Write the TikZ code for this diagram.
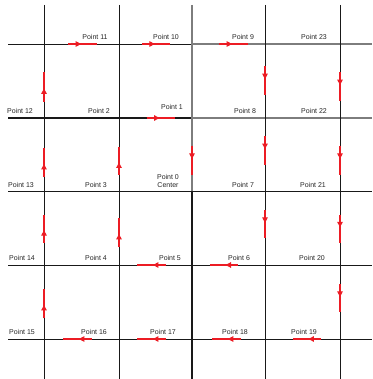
\documentclass[tikz,border=0pt]{standalone}
\usepackage{fontspec}
\setmainfont{Liberation Sans}
\usetikzlibrary{calc,arrows.meta}
\definecolor{flowred}{RGB}{236,28,36}
\definecolor{gridgrey}{RGB}{125,125,125}
\tikzset{
  gridline/.style={draw=black!90, line width=0.8pt},
  gridbold/.style={draw=black!90, line width=1.3pt},
  gridpale/.style={draw=gridgrey, line width=1.1pt},
  flowline/.style={draw=flowred, line width=1.1pt},
  flowhead/.style={draw=flowred, line width=1.1pt, -{Triangle[length=5.5pt,width=5.5pt]}},
  lab/.style={font=\fontsize{7pt}{8pt}\selectfont, text=black!85, inner sep=0pt, align=center}
}
\newcommand\flowarrow[4]{%
  \draw[flowline] ($(#1)!#3!(#2)$) -- ($(#1)!#4!(#2)$);
  \draw[flowhead] ($(#1)!#3!(#2)$) -- ($(#1)!{#3+0.45*(#4-#3)}!(#2)$);
}
\begin{document}
\begin{tikzpicture}[x=1pt,y=-1pt]
\useasboundingbox (0,0) rectangle (372,379);
% intersections
\foreach \cx [count=\i from 0] in {44,119,192,265,340}{
  \foreach \ry [count=\j from 0] in {44,118,191,265,339}{
    \coordinate (c\i r\j) at (\cx,\ry);
  }
  \coordinate (T\i) at (\cx,5);
  \coordinate (B\i) at (\cx,379);
}
\foreach \ry [count=\j from 0] in {44,118,191,265,339}{
  \coordinate (L\j) at (8,\ry);
  \coordinate (R\j) at (372,\ry);
}
% horizontal lines
\draw[gridline] (L0) -- (c2r0);
\draw[gridpale] (c2r0) -- (R0);
\draw[gridbold] (L1) -- (c2r1);
\draw[gridpale] (c2r1) -- (R1);
\draw[gridline] (L2) -- (R2);
\draw[gridline] (L3) -- (R3);
\draw[gridline] (L4) -- (R4);
% vertical lines
\draw[gridline] (T0) -- (B0);
\draw[gridline] (T1) -- (B1);
\draw[gridpale] (T2) -- (c2r2);
\draw[gridbold] (c2r2) -- (B2);
\draw[gridline] (T3) -- (B3);
\draw[gridline] (T4) -- (B4);
% flow arrows
\flowarrow{c0r0}{c1r0}{0.32}{0.71}
\flowarrow{c1r0}{c2r0}{0.32}{0.70}
\flowarrow{c2r0}{c3r0}{0.37}{0.77}
\flowarrow{c3r0}{c3r1}{0.30}{0.69}
\flowarrow{c4r0}{c4r1}{0.38}{0.77}
\flowarrow{c1r1}{c2r1}{0.38}{0.77}
\flowarrow{c0r1}{c0r0}{0.22}{0.62}
\flowarrow{c0r2}{c0r1}{0.19}{0.59}
\flowarrow{c1r2}{c1r1}{0.22}{0.60}
\flowarrow{c2r1}{c2r2}{0.38}{0.78}
\flowarrow{c3r1}{c3r2}{0.25}{0.64}
\flowarrow{c4r1}{c4r2}{0.38}{0.78}
\flowarrow{c0r3}{c0r2}{0.30}{0.68}
\flowarrow{c1r3}{c1r2}{0.24}{0.64}
\flowarrow{c3r2}{c3r3}{0.26}{0.64}
\flowarrow{c4r2}{c4r3}{0.32}{0.70}
\flowarrow{c2r3}{c1r3}{0.36}{0.75}
\flowarrow{c3r3}{c2r3}{0.37}{0.75}
\flowarrow{c0r4}{c0r3}{0.28}{0.68}
\flowarrow{c4r3}{c4r4}{0.26}{0.64}
\flowarrow{c1r4}{c0r4}{0.36}{0.75}
\flowarrow{c2r4}{c1r4}{0.36}{0.75}
\flowarrow{c3r4}{c2r4}{0.33}{0.73}
\flowarrow{c4r4}{c3r4}{0.25}{0.63}
% labels
\node[lab] (p11) at (95,37) {Point 11};
\node[lab] (p10) at (166,37) {Point 10};
\node[lab] (p9) at (243,37) {Point 9};
\node[lab] (p23) at (314,37) {Point 23};
\node[lab] (p12) at (20,111) {Point 12};
\node[lab] (p2) at (99,111) {Point 2};
\node[lab] (p1) at (172,107) {Point 1};
\node[lab] (p8) at (245,111) {Point 8};
\node[lab] (p22) at (314,111) {Point 22};
\node[lab] (p13) at (21,185) {Point 13};
\node[lab] (p3) at (96,185) {Point 3};
\node[lab] (p0) at (168,181) {Point 0\\Center};
\node[lab] (p7) at (243,185) {Point 7};
\node[lab] (p21) at (313,185) {Point 21};
\node[lab] (p14) at (22,258) {Point 14};
\node[lab] (p4) at (96,258) {Point 4};
\node[lab] (p5) at (170,258) {Point 5};
\node[lab] (p6) at (239,258) {Point 6};
\node[lab] (p20) at (312,258) {Point 20};
\node[lab] (p15) at (22,332) {Point 15};
\node[lab] (p16) at (94,332) {Point 16};
\node[lab] (p17) at (163,332) {Point 17};
\node[lab] (p18) at (235,332) {Point 18};
\node[lab] (p19) at (304,332) {Point 19};
\end{tikzpicture}
\end{document}
